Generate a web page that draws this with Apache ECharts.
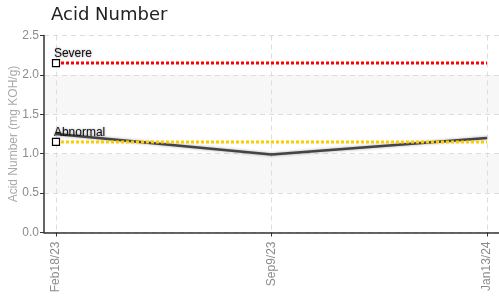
<!DOCTYPE html>
<html>
<head>
<meta charset="utf-8">
<script src="https://cdn.jsdelivr.net/npm/echarts@6/dist/echarts.min.js"></script>
<style>
  html, body { margin: 0; padding: 0; background: #fff; }
  #chart { width: 499px; height: 297px; }
</style>
</head>
<body>
<div id="chart"></div>
<script>
'use strict';

// sample dates and values
var dates = ['Feb18/23', 'Sep9/23', 'Jan13/24'];
var acidValues = [1.25, 0.99, 1.2];

// alarm limits
var limitNames = ['Severe', 'Abnormal'];
var limitValues = [2.15, 1.15];
var limitColors = ['#ff0000', '#ffcc00'];

var yTicks = [0, 0.5, 1.0, 1.5, 2.0, 2.5];

var labelFont = "'Liberation Sans', Arial, sans-serif";

var chart = echarts.init(document.getElementById('chart'));

var tickIdx = dates.map(function (d, i) { return i; });

var series = [{
    name: 'Acid Number',
    type: 'line',
    data: acidValues.map(function (v, i) { return [i, v]; }),
    symbol: 'none',
    z: 2,
    lineStyle: {
        color: '#444',
        width: 2.5,
        shadowColor: 'rgba(0,0,0,0.35)',
        shadowBlur: 3
    }
}];

limitNames.forEach(function (name, k) {
    series.push({
        name: name,
        type: 'line',
        z: 3,
        symbol: 'none',
        lineStyle: { color: limitColors[k], width: 3, type: [3, 2] },
        data: dates.map(function (d, i) {
            if (i === 0) {
                return {
                    value: [i, limitValues[k]],
                    symbol: 'rect',
                    symbolSize: 7,
                    itemStyle: { color: '#fff', borderColor: '#000', borderWidth: 1.2 },
                    label: {
                        show: true,
                        formatter: name,
                        position: [2, -11],
                        color: '#111',
                        fontSize: 12,
                        fontFamily: labelFont,
                        textShadowColor: 'rgba(0,0,0,0.45)',
                        textShadowBlur: 2
                    }
                };
            }
            return [i, limitValues[k]];
        })
    });
});

var option = {
    animation: false,
    title: {
        text: 'Acid Number',
        left: 46,
        top: 1,
        textStyle: { fontFamily: 'DejaVu Sans', fontSize: 18, fontWeight: 'normal', color: '#222' }
    },
    grid: { left: 44, right: 0, top: 35.5, bottom: 64.5, outerBoundsMode: 'none', containLabel: false },
    xAxis: {
        type: 'value',
        min: -12 / 215.5,
        max: 2 + 12 / 215.5,
        axisLine: { onZero: false, lineStyle: { color: '#333', width: 1.5 } },
        axisTick: { show: true, length: 4, customValues: tickIdx, lineStyle: { color: '#333' } },
        axisLabel: {
            customValues: tickIdx,
            rotate: 90,
            margin: 9,
            color: '#8c8c8c',
            fontSize: 12,
            fontFamily: labelFont,
            formatter: function (v) { return dates[Math.round(v)]; }
        },
        splitLine: { show: true, lineStyle: { color: '#ddd', type: [5, 4] } }
    },
    yAxis: {
        type: 'value',
        min: yTicks[0],
        max: yTicks[yTicks.length - 1],
        interval: 0.5,
        name: 'Acid Number (mg KOH/g)',
        nameLocation: 'middle',
        nameGap: 24,
        nameMoveOverlap: false,
        nameTextStyle: { color: '#aaa', fontSize: 12, fontFamily: labelFont },
        axisLine: { show: true, onZero: false, lineStyle: { color: '#333', width: 1.5 } },
        axisTick: { show: true, length: 4, lineStyle: { color: '#333' } },
        axisLabel: {
            margin: 5,
            color: '#8c8c8c',
            fontSize: 12,
            fontFamily: labelFont,
            formatter: function (v) { return v.toFixed(1); }
        },
        splitLine: { show: true, lineStyle: { color: '#ddd', type: [5, 4] } },
        splitArea: { show: true, areaStyle: { color: ['#fff', '#f7f7f7'] } }
    },
    series: series
};

chart.setOption(option);
</script>
</body>
</html>
